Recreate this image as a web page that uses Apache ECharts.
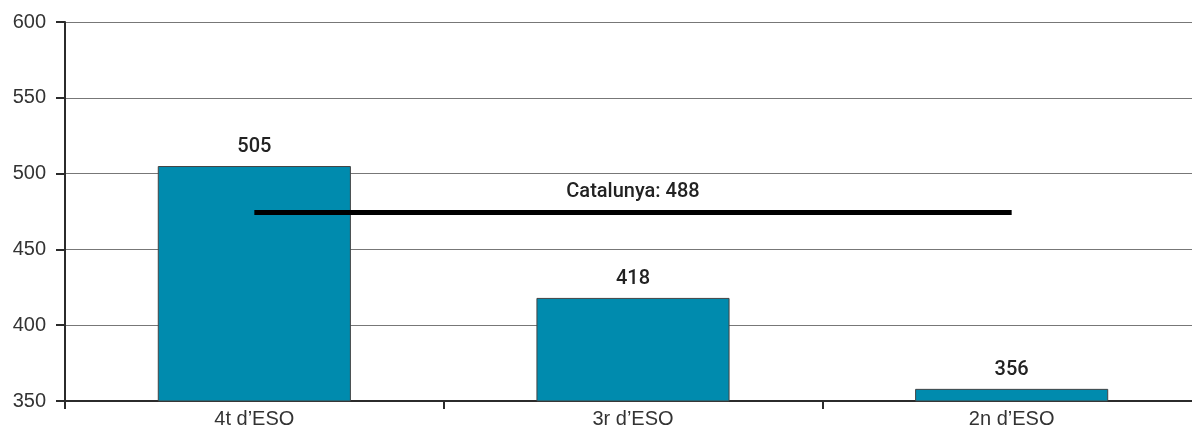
<!DOCTYPE html>
<html>
<head>
<meta charset="utf-8">
<script src="https://cdn.jsdelivr.net/npm/echarts@6/dist/echarts.min.js"></script>
<style>html,body{margin:0;padding:0;background:#fff}#c{width:1192px;height:432px}</style>
</head>
<body>
<div id="c"></div>
<script>
const categories = ["4t d\u2019ESO", "3r d\u2019ESO", "2n d\u2019ESO"];
const barValues = [505, 418, 358];
const barLabels = ["505", "418", "356"];
const refLineValue = 474.5;
const refLineLabel = "Catalunya: 488";
const yTicks = [350, 400, 450, 500, 550, 600];

const chart = echarts.init(document.getElementById('c'), null, {renderer: 'canvas'});
chart.setOption({
  animation: false,
  grid: {left: 65, width: 1136, top: 22, bottom: 31, containLabel: false, outerBoundsMode: 'none'},
  xAxis: {
    type: 'category',
    data: categories,
    axisLine: {lineStyle: {color: '#2b2b2b', width: 2}},
    axisTick: {show: true, length: 8, lineStyle: {color: '#2b2b2b', width: 2}},
    axisLabel: {color: '#333', fontSize: 20, fontFamily: 'Liberation Sans', margin: 8},
    splitLine: {show: false}
  },
  yAxis: {
    type: 'value',
    min: yTicks[0], max: yTicks[yTicks.length - 1], interval: 50,
    axisLine: {show: true, lineStyle: {color: '#2b2b2b', width: 2}},
    axisTick: {show: true, length: 9, lineStyle: {color: '#2b2b2b', width: 2}},
    axisLabel: {color: '#333', fontSize: 20, fontFamily: 'Liberation Sans', margin: 19},
    splitLine: {show: true, lineStyle: {color: '#777', width: 1}}
  },
  series: [{
    type: 'bar',
    data: barValues,
    barWidth: '51%',
    itemStyle: {color: '#008BAE', borderColor: '#444', borderWidth: 1},
    label: {
      show: true, position: 'top', distance: 9,
      formatter: p => barLabels[p.dataIndex],
      color: '#222', fontSize: 20, fontWeight: 500, fontFamily: 'Roboto'
    },
    markLine: {
      silent: true, symbol: ['none', 'none'],
      lineStyle: {color: '#000', width: 5, type: 'solid'},
      label: {show: true, position: 'middle', formatter: refLineLabel, color: '#222', fontSize: 20, fontWeight: 500, fontFamily: 'Roboto', distance: 10},
      data: [[{coord: [0, refLineValue]}, {coord: [2, refLineValue]}]]
    }
  }]
});
</script>
</body>
</html>
